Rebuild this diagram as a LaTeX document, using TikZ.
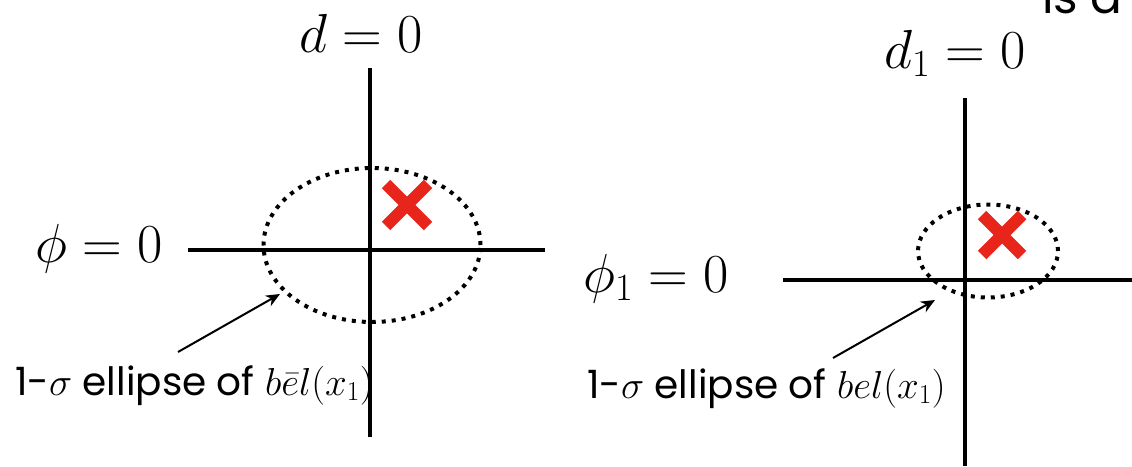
\RequirePackage{fix-cm}
\documentclass[tikz,border=0pt]{standalone}
\usepackage[no-math]{fontspec}
\setmainfont{Poppins}
\usetikzlibrary{arrows.meta,shapes.geometric,calc}
\definecolor{xred}{RGB}{232,37,26}
\tikzset{
  axis/.style={line width=4pt},
  ell/.style={line width=4pt, dash pattern=on 4pt off 6pt},
  cross/.style={line width=12pt, xred, line cap=butt},
  eqlbl/.style={inner sep=0pt, font=\fontsize{55}{60}\selectfont},
  caption/.style={inner sep=0pt, font=\fontsize{39}{44}\selectfont},
  pointer/.style={line width=2pt, -{Stealth[length=14pt,width=12pt]}}
}
\begin{document}
\begin{tikzpicture}[x=1pt,y=-1pt]
\useasboundingbox (0,0) rectangle (1132,466);
\begin{scope}
\clip (0,0) rectangle (1132,466);
\node[anchor=base west, inner sep=0pt, font=\fontsize{47}{50}\selectfont] (isa) at (1042,13) {is a};
\end{scope}
% ---- left ----
\node[eqlbl, anchor=base] (dL) at (361,52) {$d = 0$};
\node[eqlbl, anchor=base] (phiL) at (99,262) {$\phi = 0$};
\node[caption, anchor=base west] (capL) at (15,395) {1-$\sigma$ ellipse of $b\bar{e}l(x_1)$};
\coordinate (vLt) at (370,68);
\coordinate (vLb) at (370,437);
\coordinate (hLl) at (188,250);
\coordinate (hLr) at (545,250);
\draw[axis] (vLt) -- (vLb);
\draw[axis] (hLl) -- (hLr);
\node[draw, ell, ellipse, minimum width=217pt, minimum height=154pt, inner sep=0pt] (eL) at (372,245) {};
\coordinate (xL) at (407,205);
\draw[cross] ($(xL)+(-21,-21)$) -- ($(xL)+(21,21)$);
\draw[cross] ($(xL)+(-21,21)$) -- ($(xL)+(21,-21)$);
\coordinate (aLs) at (178,352);
\draw[pointer] (aLs) -- (280,294);
% ---- right ----
\node[eqlbl, anchor=base] (dR) at (955,68) {$d_1 = 0$};
\node[eqlbl, anchor=base] (phiR) at (656,292) {$\phi_1 = 0$};
\node[caption, anchor=base west] (capR) at (587,398) {1-$\sigma$ ellipse of $bel(x_1)$};
\coordinate (vRt) at (965,98);
\coordinate (vRb) at (965,466);
\coordinate (hRl) at (783,280);
\coordinate (hRr) at (1132,280);
\draw[axis] (vRt) -- (vRb);
\draw[axis] (hRl) -- (hRr);
\node[draw, ell, ellipse, minimum width=140pt, minimum height=93pt, inner sep=0pt] (eR) at (988,251) {};
\coordinate (xR) at (1002,235);
\draw[cross] ($(xR)+(-20,-20)$) -- ($(xR)+(20,20)$);
\draw[cross] ($(xR)+(-20,20)$) -- ($(xR)+(20,-20)$);
\coordinate (aRs) at (833,358);
\draw[pointer] (aRs) -- (935,300);
\end{tikzpicture}
\end{document}
